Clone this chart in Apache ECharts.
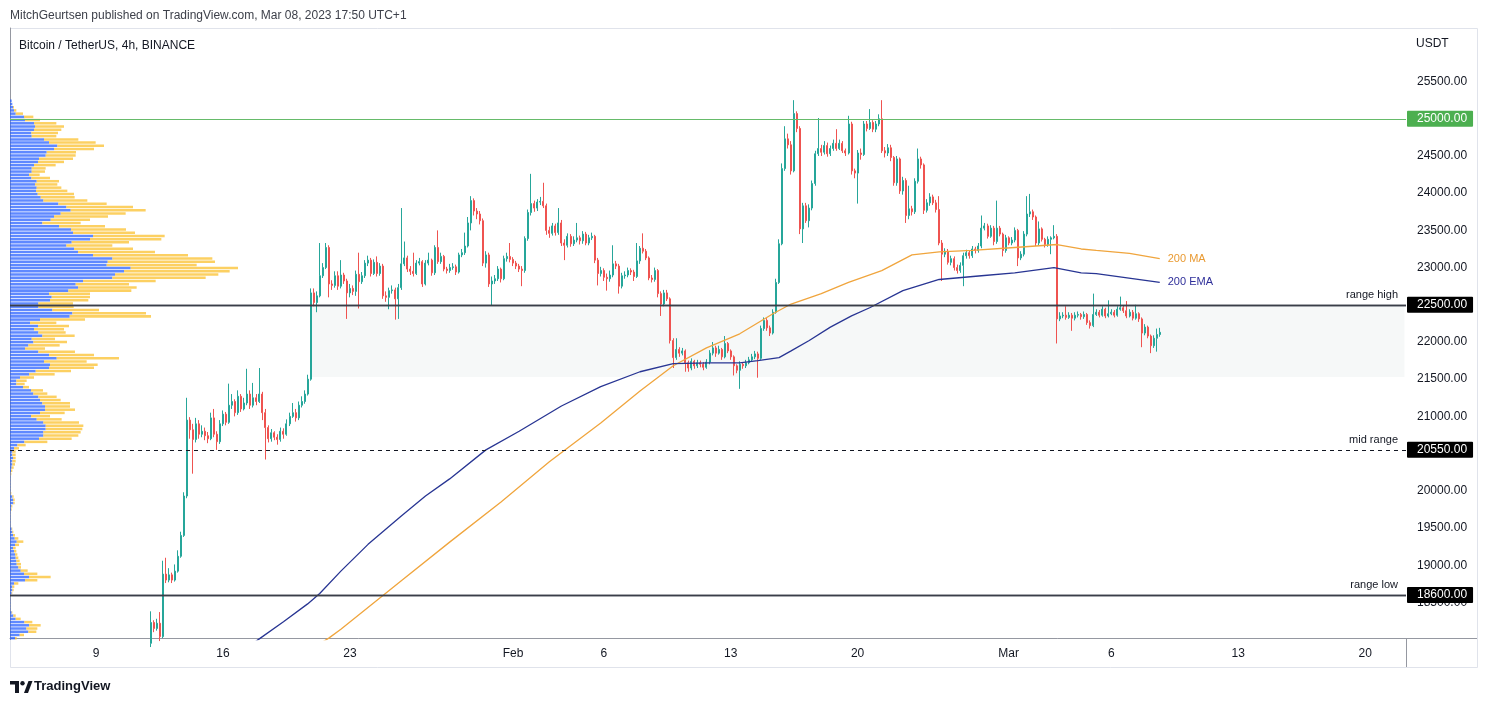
<!DOCTYPE html>
<html>
<head>
<meta charset="utf-8">
<title>Bitcoin / TetherUS, 4h</title>
<script src="https://cdn.jsdelivr.net/npm/echarts@6/dist/echarts.min.js"></script>
<style>
  html, body { margin: 0; padding: 0; background: #ffffff; }
  #chart { width: 1488px; height: 703px; }
</style>
</head>
<body>
<div id="chart"></div>
<script>
// ---- data ----

// 4h candles, first one is Jan 12 00:00; open of each bar = close of the previous
const firstOpen = 17950;
const closes = [
  18230,18150,18220,18040,18880,18800, 18870,18800,18920,19120,19400,19930,
  20950,20820,20690,20900,20760,20800, 20740,20700,20980,20760,20660,20900,
  21030,20920,21150,21200,21050,21270, 21100,21180,21300,21150,21250,21200,
  21300,21050,20850,20700,20780,20720, 20690,20800,20760,20900,21000,21050,
  20980,21150,21200,21300,21500,22660, 22530,22620,22890,23000,23270,22780,
  22760,22890,22750,22900,22820,22660, 22720,22680,22910,22810,22890,23060,
  23100,22920,23070,22920,23020,22620, 22600,22690,22700,22580,22730,23050,
  23130,22980,22950,22920,23060,23080, 22780,23060,23100,22930,23270,23080,
  23150,22980,22960,23000,23010,22940, 23170,23200,23290,23600,23900,23760,
  23720,23630,23060,23170,22780,22820, 22850,22980,22850,23120,23150,23110,
  23060,23020,22980,22960,23390,23740, 23860,23800,23880,23890,23830,23500,
  23460,23560,23470,23600,23330,23300, 23420,23320,23370,23400,23360,23450,
  23330,23400,23420,23100,22920,22960, 22870,22850,22900,23050,23020,22750,
  22890,22900,22960,22940,22880,23090, 23260,23220,23130,22860,22840,22960,
  22650,22510,22660,22580,22020,21790, 21900,21850,21880,21720,21650,21740,
  21680,21720,21700,21660,21730,21850, 21920,21850,21900,21800,21980,21880,
  21800,21680,21620,21700,21680,21720, 21760,21800,21840,21780,22180,22290,
  22190,22120,22400,22800,23320,24330, 24730,24650,24300,25070,24870,23520,
  23830,23630,23800,24130,24530,24600, 24550,24640,24530,24600,24670,24600,
  24670,24570,24540,24930,24300,24270, 24540,24520,24930,24870,24950,24860,
  24930,25000,24570,24540,24610,24480, 24140,24460,24030,24170,23700,23790,
  23750,24160,24460,24380,23770,23870, 23950,23870,23780,23330,23180,23220,
  23070,23120,23000,22960,23030,23160, 23200,23160,23250,23230,23290,23530,
  23560,23420,23530,23350,23530,23450, 23230,23400,23330,23370,23500,23130,
  23180,23450,23720,23750,23680,23330, 23520,23380,23310,23380,23400,23420,
  22310,22350,22360,22330,22360,22320, 22360,22370,22340,22370,22260,22220,
  22370,22400,22360,22440,22350,22380, 22400,22360,22440,22460,22420,22350,
  22400,22320,22380,22310,22120,22200, 22080,21950,22050,22100,22130
];
const highs = [
  18380,18260,18280,18370,19060,19100, 18960,18900,19010,19200,19450,19980,
  21250,20990,20900,20980,20950,20880, 20850,20790,21050,21100,20800,20950,
  21080,21060,21440,21300,21230,21350, 21300,21250,21640,21350,21450,21300,
  21650,21330,21100,20880,20830,20800, 20760,20850,20840,20960,21050,21180,
  21100,21200,21270,21350,21560,22720, 22720,22680,23330,23060,23330,23300,
  22830,22950,22950,23100,22930,22850, 22780,22760,22960,23200,22940,23100,
  23160,23130,23110,23150,23060,23050, 22680,22730,22760,22730,22780,23800,
  23350,23160,23020,23200,23100,23130, 23100,23100,23200,23120,23300,23500,
  23200,23170,23010,23050,23060,23040, 23200,23250,23470,23680,23960,23930,
  23800,23760,23660,23220,23200,22880, 22900,23020,23000,23160,23200,23330,
  23140,23090,23050,23020,23420,23780, 24260,23900,23920,23950,24140,23860,
  23550,23600,23590,23800,23640,23380, 23460,23450,23420,23600,23430,23490,
  23480,23440,23470,23440,23130,23010, 22990,22920,22960,23300,23090,23050,
  22930,22950,23000,22990,22970,23330, 23290,23460,23250,23150,22900,23000,
  22980,22680,22700,22700,22600,22050, 22050,21930,21920,21900,21750,21780,
  21760,21760,21750,21730,21770,21890, 22000,21950,21950,21920,22080,22000,
  21900,21820,21700,21740,21730,21760, 21800,21840,21880,21870,22220,22330,
  22320,22220,22440,22850,23380,24400, 24900,24800,24700,25250,25100,24900,
  23870,23870,23850,24170,24570,25010, 24650,24700,24680,24640,24720,24860,
  24720,24700,24600,25040,24960,24330, 24580,24600,24970,24970,25130,24980,
  24970,25060,25250,24620,24660,24650, 24500,24500,24480,24220,24200,24100,
  23830,24200,24600,24490,24400,23920, 24000,23980,23910,23960,23370,23260,
  23250,23160,23150,23040,23070,23200, 23240,23230,23290,23280,23330,23700,
  23600,23590,23570,23560,23900,23560, 23470,23440,23420,23410,23540,23520,
  23220,23490,23960,23990,23780,23700, 23620,23540,23400,23420,23420,23570,
  23450,22400,22400,22480,22400,22390, 22400,22410,22390,22410,22390,22290,
  22650,22440,22430,22480,22460,22560, 22440,22430,22480,22610,22490,22550,
  22440,22430,22500,22400,22330,22240, 22220,22100,22090,22180,22190
];
const lows = [
  17900,18100,18120,17980,18020,18760, 18770,18760,18780,18900,19100,19380,
  19900,20700,20230,20650,20700,20720, 20680,20640,20680,20720,20550,20630,
  20870,20880,20900,21100,21000,21020, 21060,21080,21150,21100,21120,21150,
  21180,20950,20420,20650,20660,20680, 20620,20660,20700,20740,20870,20980,
  20930,20950,21120,21170,21280,21480, 22480,22400,22600,22860,22980,22600,
  22700,22730,22700,22720,22780,22310, 22600,22630,22620,22450,22780,22860,
  23020,22880,22900,22880,22890,22580, 22540,22440,22650,22300,22310,22700,
  23020,22940,22900,22880,22900,23030, 22740,22760,23030,22890,22900,23050,
  23050,22950,22920,22930,22970,22900, 22920,23140,23170,23270,23500,23700,
  23650,23580,23020,23000,22740,22490, 22780,22820,22800,22830,23080,23070,
  23020,22980,22940,22750,22930,23360, 23700,23750,23760,23840,23800,23440,
  23400,23430,23430,23440,23290,23100, 23270,23280,23290,23340,23310,23320,
  23300,23300,23370,23060,22760,22880, 22820,22690,22810,22870,22980,22650,
  22720,22850,22870,22900,22820,22860, 23050,23190,23100,22830,22800,22810,
  22600,22350,22480,22550,21980,21650, 21760,21800,21820,21600,21600,21620,
  21640,21650,21660,21620,21640,21700, 21820,21800,21830,21760,21780,21850,
  21760,21550,21580,21370,21640,21650, 21700,21740,21770,21520,21760,22150,
  22150,22080,22100,22380,22780,23300, 24300,24600,24250,24280,24820,23450,
  23330,23600,23540,23770,24100,24500, 24500,24520,24490,24500,24570,24570,
  24580,24540,24500,24520,24250,24200, 23860,24450,24500,24830,24850,24820,
  24820,24900,24540,24480,24500,24430, 24100,24100,23990,23980,23600,23650,
  23700,23720,24130,24330,23720,23740, 23830,23840,23740,23300,22820,23140,
  23040,23030,22960,22920,22930,22750, 23120,23120,23130,23190,23200,23260,
  23500,23390,23400,23300,23320,23420, 23150,23200,23300,23300,23340,23020,
  23100,23150,23420,23680,23640,23290, 23300,23350,23270,23280,23180,23380,
  21980,22280,22320,22300,22310,22150, 22290,22330,22300,22310,22230,22180,
  22200,22350,22330,22340,22320,22330, 22360,22330,22340,22420,22390,22320,
  22330,22290,22300,22270,21930,22090, 22050,21850,21920,21870,22070
];

// moving averages: [bar index, price]
const ma200 = [
  [55,17920],[59,18020],[63,18140],[83,18790],[99,19310],[116,19850],[132,20390],
  [149,20910],[162,21340],[173,21680],[184,21920],[195,22110],[206,22380],[212,22510],
  [222,22650],[231,22800],[242,22960],[252,23170],[261,23210],[272,23230],[286,23270],
  [300,23310],[308,23250],[313,23230],[324,23190],[334,23120]
];
const ema200 = [
  [28,17780],[36,18010],[44,18240],[52,18480],[56,18620],[63,18920],[72,19280],
  [83,19660],[91,19930],[99,20160],[111,20550],[122,20800],[136,21140],[149,21400],
  [162,21600],[173,21710],[185,21720],[195,21720],[201,21750],[208,21790],[212,21880],
  [218,22020],[225,22200],[232,22350],[238,22460],[249,22690],[261,22840],[275,22890],
  [286,22930],[299,23000],[308,22930],[313,22920],[334,22800]
];

// visible range volume profile, rows from the top down
const profileTop = 25242;
const profileStep = 43.25;
const upVol = [
  5,7,9,12,17,42,45,72,75,72, 64,65,102,117,142,132,110,107,87,84,
  72,65,65,57,64,80,75,80,78,83, 92,100,145,169,182,152,132,122,97,147,
  183,189,249,240,185,169,192,204,249,307, 293,290,362,342,315,307,219,197,204,175,
  117,125,120,85,85,127,187,179,90,60, 84,72,85,97,65,70,55,45,85,117,
  140,102,120,117,
  77,57,30,19,19,39,63,70,85,90, 97,105,105,90,63,80,100,107,107,100,
  100,87,43,22,12,7,7,9,7,7, 5,3,2,1,1,1,1,1,2,7,
  9,10,4,3,1,1,1,1,1,5, 7,9,14,20,15,9,12,15,17,19,
  20,25,32,42,57,45,12,7,7,5, 1,1,1,1,1,5,10,17,43,57,
  49,55,29,15
];
const downVol = [
  0,0,3,7,22,28,45,67,87,82, 80,74,103,140,140,120,88,90,102,78,
  65,42,40,32,56,67,67,74,94,109, 102,132,145,200,225,195,162,118,115,138,
  165,186,215,214,172,138,177,231,285,300, 322,270,322,317,310,280,218,160,176,189,
  123,115,115,104,106,140,221,244,135,79, 93,90,82,97,70,101,94,60,110,135,
  187,128,143,135,
  106,77,42,31,25,18,36,42,55,62, 83,75,90,74,57,75,107,113,110,112,
  105,98,69,25,15,10,10,8,10,8, 6,4,2,0,0,0,0,0,2,4,
  5,4,3,2,0,0,0,0,0,2, 3,6,11,20,12,8,7,7,8,10,
  13,8,21,40,65,37,13,6,4,2, 0,0,0,0,0,2,7,15,24,35,
  33,24,13,5
];

// horizontal levels and the range box
const levelValues = [25000, 22500, 20550, 18600];
const levelNames = ['', 'range high', 'mid range', 'range low'];
const boxTop = 22500;
const boxBottom = 21530;
const boxStart = '2023-01-20 20:00';

// time axis: where each label sits and its text
const tickSlots = ['2023-01-09 00:00','2023-01-16 00:00','2023-01-23 00:00','2023-02-01 00:00',
  '2023-02-06 00:00','2023-02-13 00:00','2023-02-20 00:00','2023-02-28 08:00',
  '2023-03-06 00:00','2023-03-13 00:00','2023-03-20 00:00'];
const tickLabels = ['9','16','23','Feb','6','13','20','Mar','6','13','20'];

// ---- chart ----
const FONT = '"Liberation Sans", Arial, sans-serif';
const TEXT = '#131722';
const firstBarTime = Date.UTC(2023, 0, 12, 0);
const barsBefore = 46;
const slotCount = 462;

const categories = [];
for (let k = 0; k < slotCount; k++) {
  const d = new Date(firstBarTime + (k - barsBefore) * 4 * 3600 * 1000);
  categories.push(d.toISOString().slice(0, 13).replace('T', ' ') + ':00');
}

const candleData = [];
for (let k = 0; k < barsBefore; k++) candleData.push('-');
closes.forEach((c, i) => {
  const o = i === 0 ? firstOpen : closes[i - 1];
  candleData.push([o, c, lows[i], highs[i]]);
});

const profileRows = upVol.map((u, k) => [u, profileTop - k * profileStep, downVol[k]]);

function shift(points) {
  return points.map(p => [p[0] + barsBefore, p[1]]);
}

function tag(bg) {
  return {
    show: true, position: 'end', distance: 1,
    formatter: p => Number(p.value).toFixed(2),
    backgroundColor: bg, color: '#ffffff',
    fontFamily: FONT, fontSize: 12, lineHeight: 14,
    padding: [1, 6, 1, 10], borderRadius: 1
  };
}

const rangeLine = { color: '#3a3e48', width: 1.3, type: 'solid' };
const markLines = [
  { yAxis: levelValues[0], lineStyle: { color: '#66bb6a', width: 1, type: 'solid' }, label: tag('#4caf50') }
];
for (let k = 1; k < levelValues.length; k++) {
  const style = k === 2 ? { color: '#131722', width: 1, type: [4, 4] } : rangeLine;
  markLines.push({
    yAxis: levelValues[k], lineStyle: style,
    label: { show: true, position: 'insideEndTop', formatter: levelNames[k],
      color: TEXT, fontFamily: FONT, fontSize: 11, distance: [8, 4] }
  });
  markLines.push({ yAxis: levelValues[k], lineStyle: style, label: tag('#000000') });
}

const chart = echarts.init(document.getElementById('chart'));
chart.setOption({
  animation: false,
  backgroundColor: '#ffffff',
  textStyle: { fontFamily: FONT },
  grid: { left: 10, top: 28, right: 82, bottom: 63.4, containLabel: false },
  xAxis: [
    {
      type: 'category', data: categories, boundaryGap: true, offset: -1.4,
      axisLine: { show: true, lineStyle: { color: '#9598a1', width: 1 } },
      axisTick: { show: false }, splitLine: { show: false },
      axisLabel: {
        margin: 9, color: TEXT, fontSize: 12, fontFamily: FONT,
        interval: (idx, val) => tickSlots.indexOf(val) >= 0,
        formatter: val => tickLabels[tickSlots.indexOf(val)] || ''
      }
    },
    { type: 'value', min: 0, max: 4188, show: false }
  ],
  yAxis: {
    type: 'value', position: 'right', min: 18000, max: 26220, interval: 500, scale: true,
    axisLine: { show: true, lineStyle: { color: '#9598a1', width: 1 } },
    axisTick: { show: false }, splitLine: { show: false },
    axisLabel: {
      margin: 11, color: TEXT, fontSize: 12, fontFamily: FONT,
      formatter: v => (v > 18000 && v <= 25500) ? v.toFixed(2) : ''
    }
  },
  series: [
    {
      type: 'custom', xAxisIndex: 1, yAxisIndex: 0, silent: true, z: 1,
      data: profileRows, encode: { x: 0, y: 1 },
      renderItem: (params, api) => {
        const up = api.value(0), price = api.value(1), down = api.value(2);
        const half = profileStep * 0.39;
        const a = api.coord([0, price + half]);
        const b = api.coord([up, price - half]);
        const c = api.coord([up + down, price - half]);
        return {
          type: 'group', children: [
            { type: 'rect', shape: { x: a[0], y: a[1], width: b[0] - a[0], height: b[1] - a[1] },
              style: { fill: 'rgba(41,98,255,0.75)' } },
            { type: 'rect', shape: { x: b[0], y: a[1], width: c[0] - b[0], height: c[1] - a[1] },
              style: { fill: 'rgba(251,192,45,0.75)' } }
          ]
        };
      }
    },
    {
      type: 'candlestick', data: candleData, barWidth: 1.5, z: 3,
      itemStyle: {
        color: '#26a69a', color0: '#ef5350',
        borderColor: '#26a69a', borderColor0: '#ef5350', borderWidth: 1
      },
      markArea: {
        silent: true,
        itemStyle: { color: 'rgba(224,232,232,0.3)' },
        data: [[{ xAxis: boxStart, yAxis: boxTop }, { xAxis: categories[slotCount - 1], yAxis: boxBottom }]]
      },
      markLine: { symbol: 'none', silent: true, animation: false, data: markLines }
    },
    {
      type: 'line', data: shift(ma200), showSymbol: false, z: 4, silent: true,
      lineStyle: { color: '#f0a53d', width: 1.3 },
      endLabel: { show: true, formatter: '200 MA', color: '#e99a32', fontSize: 11, fontFamily: FONT, distance: 8 }
    },
    {
      type: 'line', data: shift(ema200), showSymbol: false, z: 4, silent: true,
      lineStyle: { color: '#283593', width: 1.3 },
      endLabel: { show: true, formatter: '200 EMA', color: '#2f2f9a', fontSize: 11, fontFamily: FONT, distance: 8 }
    }
  ],
  graphic: [
    { type: 'text', left: 10, top: 10, style: { text: 'MitchGeurtsen published on TradingView.com, Mar 08, 2023 17:50 UTC+1',
      fill: '#3d404a', font: '12px ' + FONT } },
    { type: 'rect', shape: { x: 10.5, y: 28.5, width: 1467, height: 639 },
      style: { fill: 'none', stroke: '#e0e3eb', lineWidth: 1 }, z: 0, silent: true },
    { type: 'line', shape: { x1: 1406.5, y1: 638, x2: 1406.5, y2: 667 }, style: { stroke: '#9598a1', lineWidth: 1 }, silent: true },
    { type: 'line', shape: { x1: 1406, y1: 638.5, x2: 1477, y2: 638.5 }, style: { stroke: '#9598a1', lineWidth: 1 }, silent: true },
    { type: 'text', left: 19, top: 40, style: { text: 'Bitcoin / TetherUS, 4h, BINANCE', fill: TEXT, font: '12px ' + FONT }, z: 10 },
    { type: 'text', left: 1416, top: 38, style: { text: 'USDT', fill: TEXT, font: '12px ' + FONT }, z: 10 },
    {
      type: 'group', left: 10, top: 681, silent: true, children: [
        { type: 'rect', shape: { x: 0, y: 0, width: 9, height: 3.5 }, style: { fill: TEXT } },
        { type: 'rect', shape: { x: 5, y: 0, width: 4, height: 12 }, style: { fill: TEXT } },
        { type: 'circle', shape: { cx: 12.5, cy: 2.2, r: 2.2 }, style: { fill: TEXT } },
        { type: 'polygon', shape: { points: [[14, 12], [18.5, 0], [22.5, 0], [18, 12]] }, style: { fill: TEXT } }
      ]
    },
    { type: 'text', left: 34, top: 680, style: { text: 'TradingView', fill: TEXT, font: 'bold 13px ' + FONT } }
  ]
});
</script>
</body>
</html>
